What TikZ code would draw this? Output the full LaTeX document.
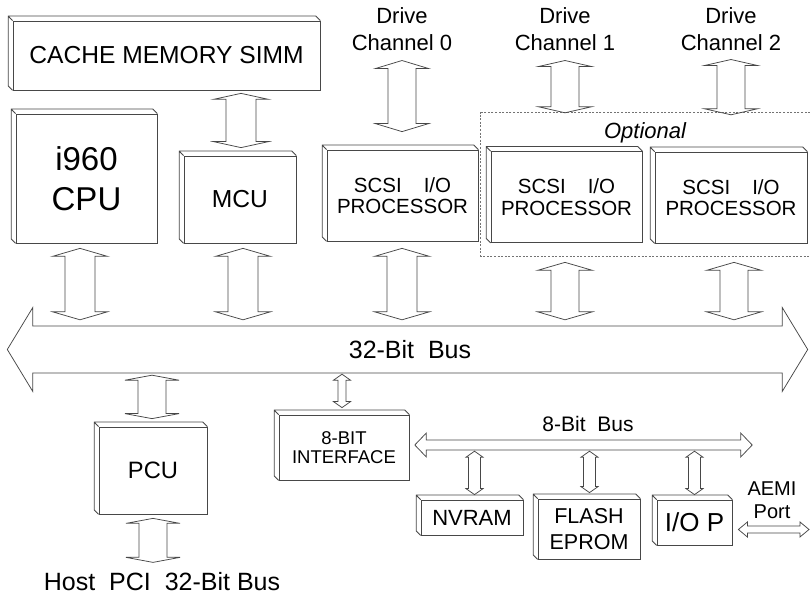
\documentclass[tikz,border=0pt]{standalone}
\usepackage{fontspec}
\setmainfont{Liberation Sans}
\usetikzlibrary{calc}
\newcommand\fsz[2]{\fontsize{#1}{#2}\selectfont}
\tikzset{
  lc/.style={draw=black!72, line width=0.75pt, line join=miter},
  box/.style={lc, fill=white, inner sep=0pt, align=center},
  lbl/.style={inner sep=0pt, align=center},
  optline/.style={draw=black!55, line width=0.7pt, dash pattern=on 2pt off 1.6pt},
}
% vertical hollow double arrow: top point, bottom point, shaft half width, head half width, head length
\newcommand\VArrow[5]{%
  \draw[lc] let \p1=#1, \p2=#2 in
   (\x1,\y1) -- (\x1+#4pt,\y1-#5pt) -- (\x1+#3pt,\y1-#5pt) -- (\x1+#3pt,\y2+#5pt)
   -- (\x1+#4pt,\y2+#5pt) -- (\x1,\y2) -- (\x1-#4pt,\y2+#5pt) -- (\x1-#3pt,\y2+#5pt)
   -- (\x1-#3pt,\y1-#5pt) -- (\x1-#4pt,\y1-#5pt) -- cycle;}
% horizontal hollow double arrow: left point, right point, shaft half, head half, head length
\newcommand\HArrow[5]{%
  \draw[lc] let \p1=#1, \p2=#2 in
   (\x1,\y1) -- (\x1+#5pt,\y1+#4pt) -- (\x1+#5pt,\y1+#3pt) -- (\x2-#5pt,\y1+#3pt)
   -- (\x2-#5pt,\y1+#4pt) -- (\x2,\y1) -- (\x2-#5pt,\y1-#4pt) -- (\x2-#5pt,\y1-#3pt)
   -- (\x1+#5pt,\y1-#3pt) -- (\x1+#5pt,\y1-#4pt) -- cycle;}
% bevel of a 3D box
\newcommand\bevel[1]{%
  \draw[lc] (#1.south west) -- ++(-4.5,4.5) -- ($(#1.north west)+(-4.5,4.5)$)
    -- ($(#1.north east)+(-4.5,4.5)$) -- (#1.north east)
    (#1.north west) -- ++(-4.5,4.5);}
\begin{document}
\begin{tikzpicture}[x=1pt,y=1pt]
\useasboundingbox[fill=white] (0,0) rectangle (810,596);

% boxes
\node[box, minimum width=307pt, minimum height=69pt, font=\fsz{24.6}{28}] (cache) at (166.5,540.5) {CACHE MEMORY SIMM};
\node[box, minimum width=141pt, minimum height=129pt, font=\fsz{33}{40}] (cpu) at (86.5,417.5) {i960\\CPU};
\node[box, minimum width=112pt, minimum height=87pt, font=\fsz{24.6}{28}] (mcu) at (240,396.5) {MCU};
\node[box, minimum width=151pt, minimum height=91pt, font=\fsz{20.5}{21.5}] (scsi0) at (402.5,400.5) {SCSI\hspace{22pt}I/O\\PROCESSOR};
\node[box, minimum width=151pt, minimum height=91pt, font=\fsz{20.5}{21.5}] (scsi1) at (566.5,399) {SCSI\hspace{22pt}I/O\\PROCESSOR};
\node[box, minimum width=152pt, minimum height=91pt, font=\fsz{20.5}{21.5}] (scsi2) at (731,398.5) {SCSI\hspace{22pt}I/O\\PROCESSOR};
\node[box, minimum width=108pt, minimum height=87pt, font=\fsz{23.7}{28}] (pcu) at (153,125.5) {PCU};
\node[box, minimum width=130pt, minimum height=65pt, font=\fsz{18.5}{19.5}] (bit8) at (344,148.5) {8-BIT\\INTERFACE};
\node[box, minimum width=102pt, minimum height=35pt, font=\fsz{22}{26}] (nvram) at (472,78.5) {NVRAM};
\node[box, minimum width=102pt, minimum height=60pt, font=\fsz{21.5}{26}] (flash) at (589,67) {FLASH\\EPROM};
\node[box, minimum width=75pt, minimum height=45pt, font=\fsz{26}{30}] (iop) at (694.5,73.5) {I/O P};
\foreach \b in {cache,cpu,mcu,scsi0,scsi1,scsi2,pcu,bit8,nvram,flash,iop} {\bevel{\b}}

% optional group
\node[inner sep=0pt, minimum width=329pt, minimum height=143pt] (opt) at (645.5,411.5) {};
\draw[optline] (opt.north east) -- (opt.north west) -- (opt.south west) -- (opt.south east);
\node[lbl, anchor=base, font=\fsz{22}{26}\itshape] (optl) at (645,457.5) {Optional};

% labels
\node[lbl, font=\fsz{22}{26.5}] (drv0) at (402,567) {Drive\\Channel 0};
\node[lbl, font=\fsz{22}{26.5}] (drv1) at (565,567) {Drive\\Channel 1};
\node[lbl, font=\fsz{22}{26.5}] (drv2) at (731,567) {Drive\\Channel 2};
\node[lbl, font=\fsz{25}{30}] (host) at (162,14) {Host~~PCI~~32-Bit Bus};
\node[lbl, font=\fsz{20}{23}] (aemi) at (772,95.5) {AEMI\\Port};

% buses
\node[lbl, minimum width=749pt, minimum height=47pt, font=\fsz{25}{30}] (bus) at (407.5,246.5) {\hspace{5pt}32-Bit~~Bus};
\HArrow{($(bus.west)+(-25.5,0)$)}{($(bus.east)+(25.5,0)$)}{23.5}{42}{25.5}
\node[lbl, minimum width=314pt, minimum height=10pt] (bus8) at (584,151) {};
\node[lbl, font=\fsz{21}{25}] (bus8l) at (588,172) {8-Bit~~Bus};
\HArrow{($(bus8.west)+(-12,0)$)}{($(bus8.east)+(11,0)$)}{5}{12}{11.5}
\coordinate (aemiend) at (809,66.5);
\HArrow{($(iop.east)+(6,-7)$)}{(aemiend)}{3.5}{7.5}{9}

% vertical arrows
\VArrow{($(cache.south -| mcu.north)+(1,-3)$)}{($(mcu.north)+(1,8)$)}{15}{27.5}{6}
\VArrow{($(cpu.south)+(-6.5,-5)$)}{($(bus.north)+(0,6)$)}{15}{27.5}{8}
\VArrow{($(mcu.south)+(3,-5)$)}{($(bus.north)+(0,6)$)}{15}{27.5}{8}
\VArrow{($(scsi0.south)+(-0.5,-7)$)}{($(bus.north)+(0,6)$)}{15}{27.5}{8}
\VArrow{($(scsi1.south)+(-1.5,-19.5)$)}{($(bus.north)+(0,6)$)}{14}{27.5}{8}
\VArrow{($(scsi2.south)+(3,-19)$)}{($(bus.north)+(0,6)$)}{14}{27.5}{8}
\VArrow{($(drv0.south)+(0,-10)$)}{($(scsi0.north)+(0,18)$)}{14}{26.5}{8}
\VArrow{($(drv1.south)+(0,-10)$)}{($(opt.north)+(0,0)$)}{14}{26.5}{6}
\VArrow{($(drv2.south)+(0,-9)$)}{($(opt.north)+(0,-2)$)}{14}{26.5}{6}
\VArrow{($(bus.south -| pcu.north)+(-1,-2)$)}{($(pcu.north)+(0,8)$)}{14}{27}{5}
\VArrow{($(pcu.south)+(0,-4)$)}{($(pcu.south)+(0,-48)$)}{14}{27}{5}
\VArrow{($(bus.south -| bit8.north)+(-2,-1)$)}{($(bit8.north)+(0,7)$)}{4}{8.5}{6}
\VArrow{($(bus8.south -| nvram.north)+(2.5,-1)$)}{($(nvram.north)+(0,5)$)}{6}{8.5}{6}
\VArrow{($(bus8.south -| flash.north)+(0.5,-1)$)}{($(flash.north)+(0,6)$)}{6}{8.5}{6}
\VArrow{($(bus8.south -| iop.north)+(0,-1)$)}{($(iop.north)+(0,5)$)}{6}{8.5}{6}
\end{tikzpicture}
\end{document}
